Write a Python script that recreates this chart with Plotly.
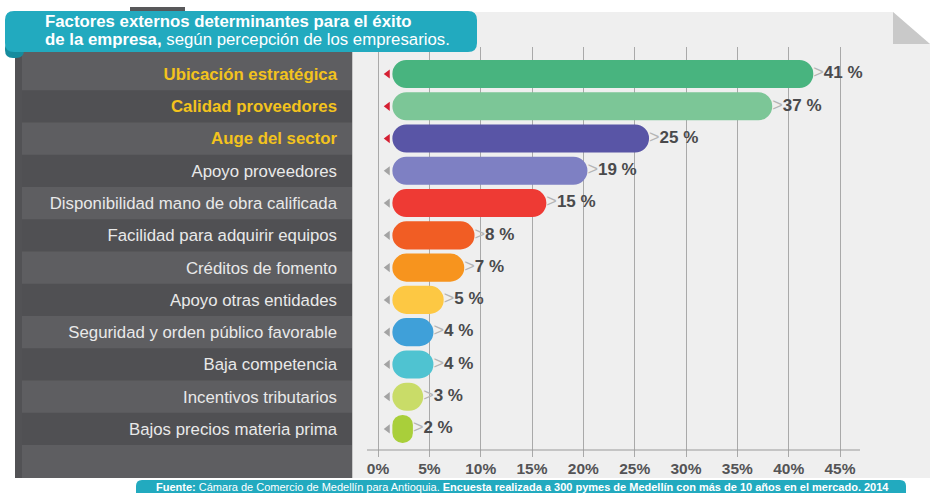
import plotly.graph_objects as go

W, H = 930, 493

# data (top to bottom)
factores = [
    "Ubicación estratégica",
    "Calidad proveedores",
    "Auge del sector",
    "Apoyo proveedores",
    "Disponibilidad mano de obra calificada",
    "Facilidad para adquirir equipos",
    "Créditos de fomento",
    "Apoyo otras entidades",
    "Seguridad y orden público favorable",
    "Baja competencia",
    "Incentivos tributarios",
    "Bajos precios materia prima",
]
porcentajes = [41, 37, 25, 19, 15, 8, 7, 5, 4, 4, 3, 2]
destacados = [True, True, True] + [False] * 9
colores = ["#48b47f", "#7cc697", "#5955a6", "#7e80c3", "#ee3a34", "#f15d24",
           "#f7941e", "#fdc843", "#3fa0d9", "#4fc3d1", "#c9dc68", "#a9cf3a"]
ticks_x = [0, 5, 10, 15, 20, 25, 30, 35, 40, 45]

BASE = 1.4  # bars start a little right of the 0% line
filas = list(range(len(factores)))
FONT = "Liberation Sans, Arial, sans-serif"


def px(x):
    return x / W


def py(y):
    return 1 - y / H


def path_px(pts):
    return "M " + " L ".join(f"{px(x):.5f},{py(y):.5f}" for x, y in pts) + " Z"


def rounded_rect(x0, y0, x1, y1, r):
    p = [
        f"M {px(x0 + r):.5f},{py(y0):.5f}",
        f"L {px(x1 - r):.5f},{py(y0):.5f}",
        f"Q {px(x1):.5f},{py(y0):.5f} {px(x1):.5f},{py(y0 + r):.5f}",
        f"L {px(x1):.5f},{py(y1 - r):.5f}",
        f"Q {px(x1):.5f},{py(y1):.5f} {px(x1 - r):.5f},{py(y1):.5f}",
        f"L {px(x0 + r):.5f},{py(y1):.5f}",
        f"Q {px(x0):.5f},{py(y1):.5f} {px(x0):.5f},{py(y1 - r):.5f}",
        f"L {px(x0):.5f},{py(y0 + r):.5f}",
        f"Q {px(x0):.5f},{py(y0):.5f} {px(x0 + r):.5f},{py(y0):.5f}",
        "Z",
    ]
    return " ".join(p)


fig = go.Figure()

fig.add_trace(go.Bar(
    y=filas,
    x=porcentajes,
    base=[BASE] * len(filas),
    orientation="h",
    marker=dict(color=colores, cornerradius="50%", line=dict(width=0)),
    hoverinfo="skip",
    showlegend=False,
))

# small triangles on the left of each bar
fig.add_trace(go.Scatter(
    y=filas,
    x=[0.95] * len(filas),
    mode="markers",
    marker=dict(symbol="triangle-left", size=8,
                color=["#d51f32" if d else "#a3a3a3" for d in destacados]),
    hoverinfo="skip",
    showlegend=False,
))

# value labels
fig.add_trace(go.Scatter(
    y=filas,
    x=[BASE + v for v in porcentajes],
    mode="text",
    text=[f"<span style='color:#b5b5b5;font-weight:normal;font-size:18px'>></span><b>{v} %</b>"
          for v in porcentajes],
    textposition="middle right",
    textfont=dict(family=FONT, size=17, color="#4a4a4c"),
    hoverinfo="skip",
    showlegend=False,
))

ticktext_y = [
    f"<b><span style='color:#f3c31d'>{f}</span></b>" if d else f
    for f, d in zip(factores, destacados)
]

shapes = []
# light grey panel with folded corner
shapes.append(dict(type="path", xref="paper", yref="paper", layer="below",
                   path=path_px([(352, 12), (893, 12), (930, 44), (930, 478), (352, 478)]),
                   fillcolor="#efefef", line=dict(width=0)))
shapes.append(dict(type="path", xref="paper", yref="paper", layer="below",
                   path=path_px([(893, 12), (893, 44), (930, 44)]),
                   fillcolor="#c9c9c9", line=dict(width=0)))
# dark label panel
shapes.append(dict(type="rect", xref="paper", yref="paper", layer="below",
                   x0=px(15), x1=px(352), y0=py(478), y1=py(50),
                   fillcolor="#5e5e61", line=dict(width=0)))
shapes.append(dict(type="rect", xref="paper", yref="paper", layer="below",
                   x0=px(15), x1=px(22), y0=py(478), y1=py(50),
                   fillcolor="#525255", line=dict(width=0)))
for i in filas:
    if i % 2 == 1:
        shapes.append(dict(type="rect", xref="paper", yref="y", layer="below",
                           x0=px(22), x1=px(352), y0=i - 0.5, y1=i + 0.5,
                           fillcolor="#505053", line=dict(width=0)))
shapes.append(dict(type="line", xref="paper", yref="paper", layer="below",
                   x0=px(352.5), x1=px(352.5), y0=py(478), y1=py(50),
                   line=dict(color="#c8c8c8", width=1)))
# x axis base line
shapes.append(dict(type="line", xref="paper", yref="paper", layer="above",
                   x0=px(367), x1=px(860), y0=py(450), y1=py(450),
                   line=dict(color="#9a9a9a", width=1.2)))
# title box
shapes.append(dict(type="rect", xref="paper", yref="paper", layer="above",
                   x0=px(130), x1=px(185), y0=py(13), y1=py(7),
                   fillcolor="#58585a", line=dict(width=0)))
shapes.append(dict(type="path", xref="paper", yref="paper", layer="above",
                   path=rounded_rect(5, 40, 24, 58, 8),
                   fillcolor="#168c9e", line=dict(width=0)))
shapes.append(dict(type="path", xref="paper", yref="paper", layer="above",
                   path=rounded_rect(5, 11, 477, 52, 9),
                   fillcolor="#22aabf", line=dict(width=0)))
# footer
shapes.append(dict(type="path", xref="paper", yref="paper", layer="above",
                   path=rounded_rect(136, 480, 906, 500, 6),
                   fillcolor="#22aabf", line=dict(width=0)))

annotations = [
    dict(xref="paper", yref="paper", x=px(43), y=py(21.5), xanchor="left", yanchor="middle",
         align="left", showarrow=False,
         text="<b>Factores externos determinantes para el éxito</b>",
         font=dict(family=FONT, size=16.8, color="#ffffff")),
    dict(xref="paper", yref="paper", x=px(43), y=py(39.5), xanchor="left", yanchor="middle",
         align="left", showarrow=False,
         text="<b>de la empresa,</b> según percepción de los empresarios.",
         font=dict(family=FONT, size=16.8, color="#ffffff")),
    dict(xref="paper", yref="paper", x=px(522), y=py(487), xanchor="center", yanchor="middle",
         showarrow=False,
         text="<b>Fuente:</b> Cámara de Comercio de Medellín para Antioquia. "
              "<b>Encuesta realizada a 300 pymes de Medellín con más de 10 años en el mercado. 2014</b>",
         font=dict(family=FONT, size=11, color="#ffffff")),
]

# pixel layout: 0% at x=378, 45% at x=840; rows at y=74 + 32.27*i
ppu = (840 - 378) / 45
x_lo = (352 - 378) / ppu
x_hi = (905 - 378) / ppu
row = 32.27
y_top = (47 - 74) / row
y_bot = (457 - 74) / row

fig.update_layout(
    width=W, height=H,
    margin=dict(l=0, r=0, t=0, b=0),
    paper_bgcolor="#ffffff",
    plot_bgcolor="rgba(0,0,0,0)",
    bargap=0.13,
    shapes=shapes,
    annotations=annotations,
    font=dict(family=FONT),
    xaxis=dict(
        domain=[px(352), px(905)],
        range=[x_lo, x_hi],
        tickvals=ticks_x,
        ticktext=[f"{t}%" for t in ticks_x],
        tickfont=dict(family=FONT, size=15.5, color="#545456", weight="bold"),
        showgrid=True, gridcolor="#a9a9a9", gridwidth=1,
        zeroline=False, showline=False, ticks="",
        fixedrange=True,
    ),
    yaxis=dict(
        domain=[py(457), py(47)],
        range=[y_bot, y_top],
        tickvals=filas,
        ticktext=ticktext_y,
        tickfont=dict(family=FONT, size=16.8, color="#e9e9e9"),
        ticklabelstandoff=14,
        showgrid=False, zeroline=False, showline=False, ticks="",
        fixedrange=True,
    ),
)

fig.write_html("out.html", config={"displayModeBar": False},
               post_script="document.body.style.margin='0px';")
